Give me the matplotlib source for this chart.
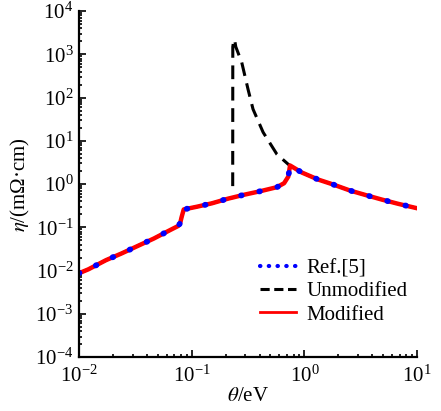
import numpy as np
import matplotlib
matplotlib.use('Agg')
import matplotlib.pyplot as plt

plt.rcParams['font.family'] = 'serif'
plt.rcParams['font.serif'] = ['Liberation Serif', 'DejaVu Serif']
plt.rcParams['mathtext.fontset'] = 'stix'
plt.rcParams['font.size'] = 15

# значения
mod_x = [0.0100, 0.0121, 0.0174, 0.0239, 0.0329, 0.046, 0.064, 0.076, 0.079,
         0.0815, 0.085, 0.111, 0.151, 0.209, 0.231, 0.293, 0.40, 0.57, 0.66,
         0.72, 0.745, 0.95, 1.33, 1.8, 2.54, 3.57, 4.85, 6.8, 9.8]
mod_y = [0.0087, 0.0107, 0.0175, 0.025, 0.0368, 0.055, 0.086, 0.108, 0.125,
         0.175, 0.26, 0.30, 0.36, 0.46, 0.49, 0.57, 0.68, 0.85, 1.05,
         1.5, 2.7, 1.85, 1.27, 0.98, 0.71, 0.55, 0.44, 0.35, 0.28]

# пик немодифицированной модели
unmod_x = [0.2311, 0.2315, 0.236, 0.240, 0.246, 0.278, 0.316, 0.35, 0.43, 0.57, 0.716]
unmod_y = [0.9, 1500, 2100, 2200, 1500, 650, 156, 54, 15.8, 4.9, 2.9]

ref_x = mod_x
ref_y = mod_y

mod_x = np.array(mod_x)
mod_y = np.array(mod_y)
left = mod_x <= 0.231
right = mod_x >= 0.745

fig = plt.figure(figsize=(4.41, 4.11), dpi=100)
ax = fig.add_axes([0.179, 0.131, 0.767, 0.842])

# черная пунктирная: совпадает с красной вне пика
ax.plot(mod_x[left], mod_y[left], color='black', lw=2.2, dashes=(4.5, 2.5))
ax.plot(unmod_x + list(mod_x[right]), unmod_y + list(mod_y[right]),
        color='black', lw=2.2, dashes=(4.5, 2.5))
ax.plot(mod_x, mod_y, color='red', lw=3.2)
ax.plot(ref_x, ref_y, color='blue', lw=4.2, linestyle=(0, (0.1, 3.1)),
        dash_capstyle='round')

ax.set_xscale('log')
ax.set_yscale('log')
ax.set_xlim(1e-2, 1e1)
ax.set_ylim(1e-4, 1e4)
ax.set_xticks([1e-2, 1e-1, 1e0, 1e1])
ax.set_yticks([10.0 ** k for k in range(-4, 5)])

ax.spines['top'].set_visible(False)
ax.spines['right'].set_visible(False)
ax.spines['left'].set_linewidth(1.6)
ax.spines['bottom'].set_linewidth(1.6)
ax.tick_params(which='both', direction='in', top=False, right=False, width=1.2)
ax.tick_params(which='major', length=5, pad=4)
ax.tick_params(which='minor', length=2.5)
ax.tick_params(axis='x', pad=6)

ax.set_xlabel(r'$\theta$/eV', labelpad=0)
ax.set_ylabel(r'$\eta$/(mΩ·cm)', labelpad=2)

h1, = ax.plot([], [], color='blue', lw=3, linestyle=(0, (0.1, 2.0)), dash_capstyle='round')
h2, = ax.plot([], [], color='black', lw=2.2, dashes=(3, 1.5))
h3, = ax.plot([], [], color='red', lw=2)
ax.legend([h1, h2, h3], ['Ref.[5]', 'Unmodified', 'Modified'],
          loc='upper left', bbox_to_anchor=(0.535, 0.285), frameon=False,
          borderpad=0, borderaxespad=0, handlelength=1.75, handletextpad=0.5,
          labelspacing=0.18)

fig.savefig('out.png', dpi=100)
